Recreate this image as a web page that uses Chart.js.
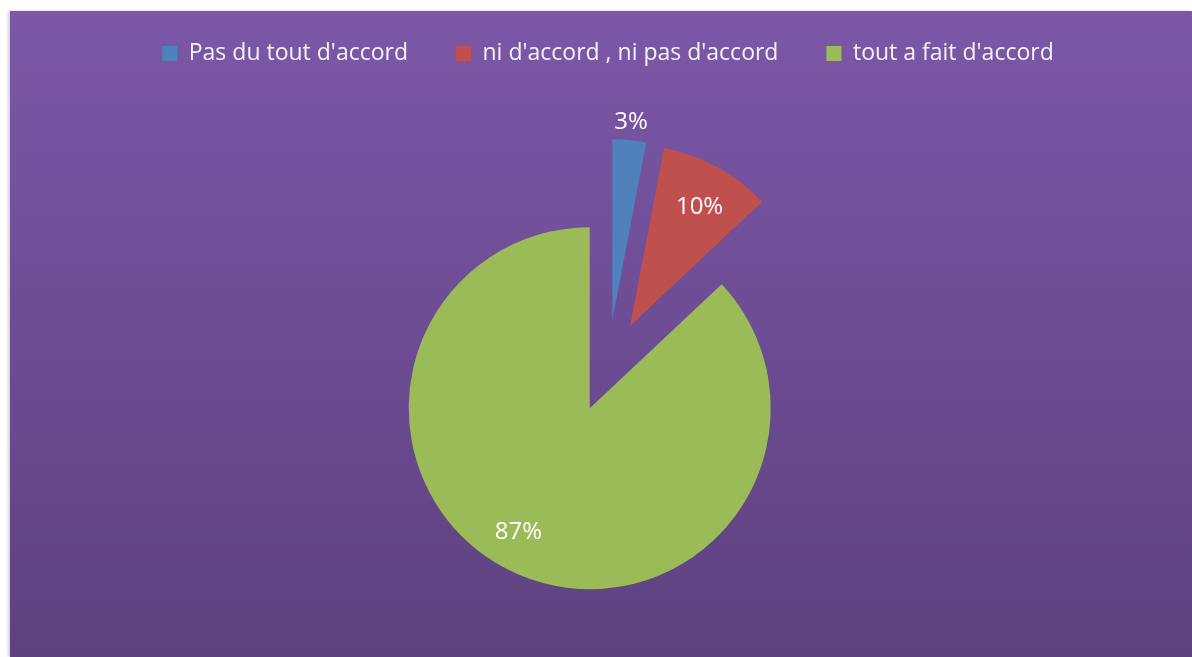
<!DOCTYPE html>
<html>
<head>
<meta charset="utf-8">
<script src="https://cdn.jsdelivr.net/npm/chart.js@4/dist/chart.umd.min.js"></script>
<style>
  html, body { margin: 0; padding: 0; background: #fff; overflow: hidden; }
  #panel {
    position: absolute; left: 10px; top: 11px; width: 1182px; height: 646px;
    background: linear-gradient(to bottom, #7c57a8 0%, #5e427f 100%);
    box-shadow: -2px 0 3px rgba(0, 0, 0, 0.18);
  }
</style>
</head>
<body>
<div id="panel"><canvas id="grafico"></canvas></div>
<script>
// Réponses (en %)
const categories = ["Pas du tout d'accord", "ni d'accord , ni pas d'accord", "tout a fait d'accord"];
const valeurs = [3, 10, 87];
const couleurs = ["#4f81bd", "#c0504d", "#9bbb59"];

// Parts éclatées : chaque part est décalée le long de sa bissectrice
const eclatement = {
  id: "eclatement",
  afterDatasetsUpdate(chart, args, opts) {
    const area = chart.chartArea;
    const cx = (area.left + area.right) / 2;
    const cy = (area.top + area.bottom) / 2;
    chart.getDatasetMeta(0).data.forEach((arc) => {
      const mid = (arc.startAngle + arc.endAngle) / 2;
      arc.x = cx + Math.cos(mid) * opts.distance;
      arc.y = cy + Math.sin(mid) * opts.distance;
    });
  },
};

// Étiquettes de pourcentage (la petite part a son étiquette à l'extérieur)
const etiquettes = {
  id: "etiquettes",
  afterDatasetsDraw(chart, args, opts) {
    const ctx = chart.ctx;
    const meta = chart.getDatasetMeta(0);
    ctx.save();
    ctx.fillStyle = "#ffffff";
    ctx.font = "24px 'Open Sans'";
    ctx.textAlign = "center";
    ctx.textBaseline = "middle";
    meta.data.forEach((arc, i) => {
      const mid = (arc.startAngle + arc.endAngle) / 2 + (opts.decalage[i] * Math.PI) / 180;
      const f = opts.rayon[i];
      const x = arc.x + Math.cos(mid) * arc.outerRadius * f;
      const y = arc.y + Math.sin(mid) * arc.outerRadius * f;
      ctx.fillText(valeurs[i] + "%", x, y);
    });
    ctx.restore();
  },
};

const ctx = document.getElementById("grafico").getContext("2d");

new Chart(ctx, {
  type: "pie",
  data: {
    labels: categories,
    datasets: [
      {
        data: valeurs,
        backgroundColor: couleurs,
        borderWidth: 0,
        clip: false,
      },
    ],
  },
  options: {
    responsive: true,
    maintainAspectRatio: false,
    animation: false,
    radius: 181,
    layout: {
      padding: { top: -17, left: 14, right: 0, bottom: -13 },
    },
    plugins: {
      eclatement: { distance: 46 },
      etiquettes: { decalage: [0, 1.5, 6.5], rayon: [1.1, 0.76, 0.79] },
      tooltip: { enabled: false },
      legend: {
        position: "top",
        labels: {
          boxWidth: 15,
          boxHeight: 15,
          padding: 48,
          color: "#f4f4f4",
          font: { family: "'Open Sans'", size: 23 },
        },
      },
    },
  },
  plugins: [eclatement, etiquettes],
});
</script>
</body>
</html>
